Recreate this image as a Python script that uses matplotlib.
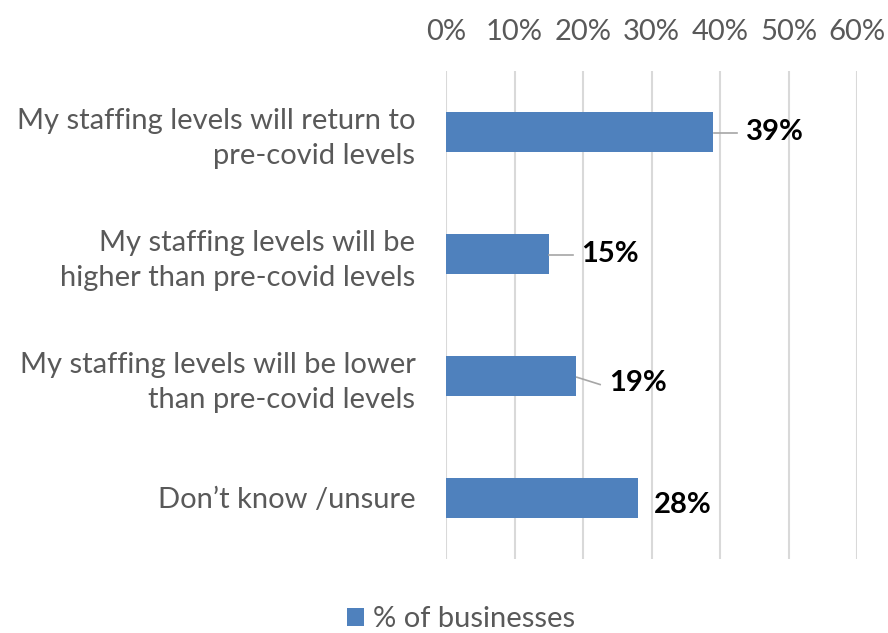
import matplotlib.pyplot as plt
import numpy as np

categories = [
    'My staffing levels will return to\npre-covid levels',
    'My staffing levels will be\nhigher than pre-covid levels',
    'My staffing levels will be lower\nthan pre-covid levels',
    'Don\u2019t know /unsure',
]
values = [39, 15, 19, 28]
ticks = [0, 10, 20, 30, 40, 50, 60]

# label placement: (x offset in %, y offset in bar units, draw leader line)
label_pos = [(4.8, 0.0, True), (4.7, 0.0, True), (4.8, 0.06, True), (2.4, 0.06, False)]

BLUE = '#4F81BD'
GREY = '#595959'

plt.rcParams['font.family'] = ['Lato', 'DejaVu Sans']

fig = plt.figure(figsize=(8.88, 6.33), dpi=100)
ax = fig.add_axes([446 / 888, 1 - 559 / 633, (857 - 446) / 888, (559 - 71) / 633])

y = np.arange(len(categories))
ax.barh(y, values, height=0.32, color=BLUE, label='% of businesses', zorder=3)
ax.set_ylim(len(categories) - 0.5, -0.5)
ax.set_xlim(0, 60)

ax.set_yticks(y)
ax.set_yticklabels(categories, fontsize=21, color=GREY, ha='right', linespacing=1.4)
ax.tick_params(axis='y', length=0, pad=22)

ax.xaxis.tick_top()
ax.set_xticks(ticks)
ax.set_xticklabels([f'{t}%' for t in ticks], fontsize=21, color=GREY)
ax.tick_params(axis='x', length=0, pad=19)

ax.grid(axis='x', color='#D9D9D9', linewidth=1.5, zorder=0)
for s in ax.spines.values():
    s.set_visible(False)

# value labels, some with short leader lines
for yi, v, (dx, dy, lead) in zip(y, values, label_pos):
    if lead:
        ax.plot([v + 0.1, v + 3.5], [yi + 0.01, yi + dy + 0.01], color='#A6A6A6', lw=1.2, zorder=4)
    ax.text(v + dx, yi + dy, f'{v}%', fontsize=21, fontweight='bold',
            color='black', va='center', ha='left', zorder=5)

fig.legend(loc='lower center', bbox_to_anchor=(0.519, -0.04), frameon=False,
           fontsize=21, labelcolor=GREY, handlelength=0.6, handleheight=0.6,
           handletextpad=0.3)

fig.savefig('out.png', dpi=100)
